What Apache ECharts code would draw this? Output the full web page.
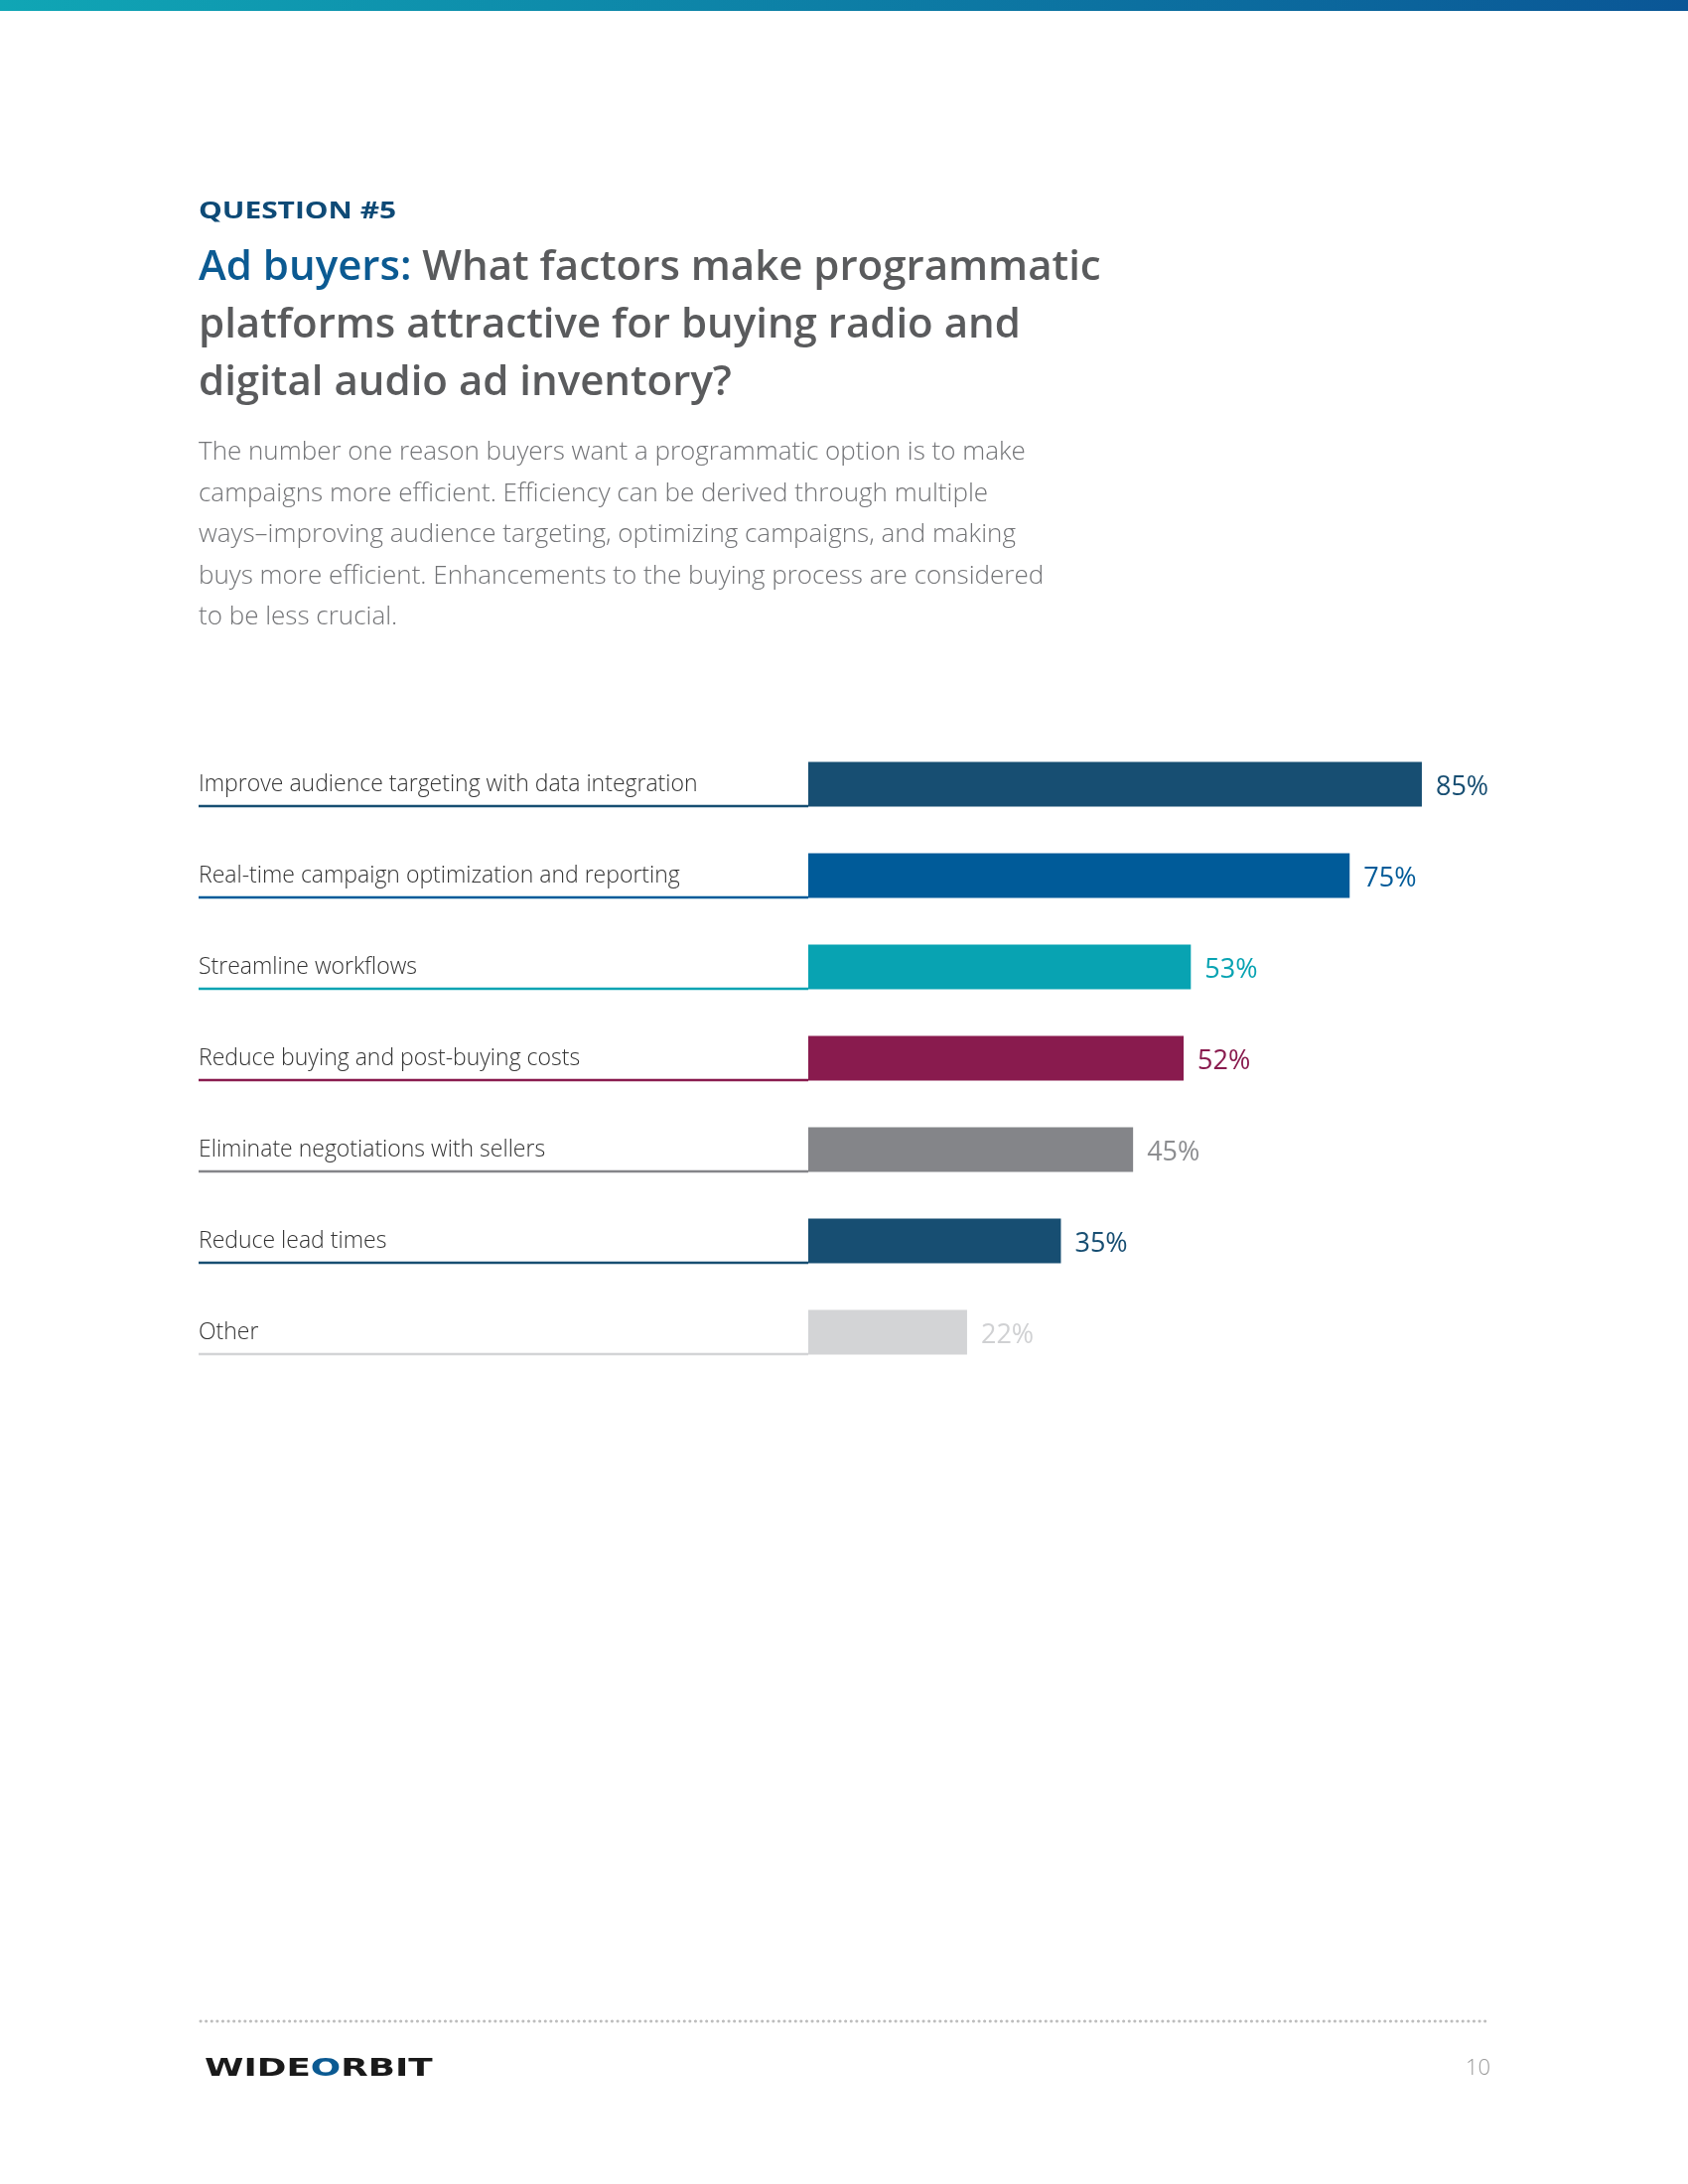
<!DOCTYPE html>
<html>
<head>
<meta charset="utf-8">
<script src="https://cdn.jsdelivr.net/npm/echarts@6/dist/echarts.min.js"></script>
<style>
  html, body { margin: 0; padding: 0; background: #fff; }
  #main { width: 1700px; height: 2200px; }
</style>
</head>
<body>
<div id="main"></div>
<script>
var categories = [
  'Improve audience targeting with data integration',
  'Real-time campaign optimization and reporting',
  'Streamline workflows',
  'Reduce buying and post-buying costs',
  'Eliminate negotiations with sellers',
  'Reduce lead times',
  'Other'
];
var values = [85, 75, 53, 52, 45, 35, 22];
var barColors = ['#174e72', '#005b99', '#08a3b2', '#891b4e', '#848589', '#174e72', '#d3d4d6'];
var labelColors = ['#174e72', '#005b99', '#08a3b2', '#891b4e', '#8c8d90', '#174e72', '#d0d1d3'];

var paragraph = [
  'The number one reason buyers want a programmatic option is to make',
  'campaigns more efficient. Efficiency can be derived through multiple',
  'ways\u2013improving audience targeting, optimizing campaigns, and making',
  'buys more efficient. Enhancements to the buying process are considered',
  'to be less crucial.'
];

var FONT = '"Open Sans", "Noto Sans", sans-serif';
var dom = document.getElementById('main');
var myChart = echarts.init(dom, null, { renderer: 'canvas' });

var barData = values.map(function (v, i) {
  return { value: v, itemStyle: { color: barColors[i] }, label: { color: labelColors[i] } };
});

var option = {
  backgroundColor: '#ffffff',
  animation: false,
  textStyle: { fontFamily: FONT },
  grid: { left: 814, top: 744, width: 727, height: 644, containLabel: false },
  xAxis: {
    type: 'value', min: 0, max: 100, show: false
  },
  yAxis: {
    type: 'category',
    data: categories,
    inverse: true,
    axisLine: { show: false },
    axisTick: { show: false },
    splitLine: { show: false },
    axisLabel: {
      align: 'left',
      margin: 614,
      fontSize: 23,
      fontWeight: 300,
      fontFamily: FONT,
      color: '#333333',
      padding: [10, 0, 0, 0]
    }
  },
  series: [
    {
      type: 'bar',
      data: barData,
      barWidth: 45,
      label: {
        show: true,
        position: 'right',
        distance: 14,
        offset: [0, 3],
        fontSize: 27,
        fontWeight: 'normal',
        fontFamily: FONT,
        formatter: '{c}%'
      }
    },
    {
      // underline under each category label, same colour as the bar
      type: 'custom',
      data: values.map(function (v, i) { return [0, i]; }),
      encode: { x: 0, y: 1 },
      clip: false,
      silent: true,
      renderItem: function (params, api) {
        var p = api.coord([0, api.value(1)]);
        var y = p[1] + 22;
        return {
          type: 'line',
          shape: { x1: 200, y1: y, x2: p[0], y2: y },
          style: { stroke: barColors[params.dataIndex], lineWidth: 2.5 }
        };
      }
    }
  ],
  graphic: [
    {
      type: 'rect',
      shape: { x: 0, y: 0, width: 1700, height: 11 },
      style: {
        fill: new echarts.graphic.LinearGradient(0, 0, 1, 0, [
          { offset: 0, color: '#10a6b5' },
          { offset: 1, color: '#0a5696' }
        ])
      }
    },
    {
      type: 'text',
      x: 200, y: 213,
      scaleX: 1.3,
      style: {
        text: 'QUESTION #5',
        font: 'bold 23px ' + FONT,
        fill: '#0e4a76',
        textVerticalAlign: 'middle'
      }
    },
    {
      type: 'text',
      x: 200, y: 241,
      style: {
        text: '{b|Ad buyers: }{g|What factors make programmatic}\n{g|platforms attractive for buying radio and}\n{g|digital audio ad inventory?}',
        textVerticalAlign: 'top',
        rich: {
          b: { font: '600 42px ' + FONT, fill: '#0b5a92', lineHeight: 58 },
          g: { font: '600 42px ' + FONT, fill: '#5a5b5d', lineHeight: 58 }
        }
      }
    },
    {
      type: 'text',
      x: 200, y: 435,
      style: {
        text: paragraph.join('\n'),
        font: '300 26px ' + FONT,
        fill: '#737477',
        lineHeight: 41.5,
        textVerticalAlign: 'top'
      }
    },
    {
      type: 'line',
      shape: { x1: 202, y1: 2036, x2: 1501, y2: 2036 },
      style: { stroke: '#bdbdbd', lineWidth: 3, lineDash: [0.1, 5.5], lineCap: 'round' }
    },
    {
      type: 'text',
      x: 206, y: 2084,
      scaleX: 1.43,
      style: {
        text: 'WIDE{o|O}RBIT',
        font: 'bold 25px "DejaVu Sans", sans-serif',
        fill: '#1a1a1a',
        textVerticalAlign: 'middle',
        rich: {
          o: { font: 'bold 25px "DejaVu Sans", sans-serif', fill: '#0b5a92' }
        }
      }
    },
    {
      type: 'text',
      x: 1501, y: 2084,
      style: {
        text: '10',
        font: '300 22px ' + FONT,
        fill: '#9a9a9a',
        textAlign: 'right',
        textVerticalAlign: 'middle'
      }
    }
  ]
};

if (option && typeof option === 'object') {
  myChart.setOption(option, true);
}
</script>
</body>
</html>
